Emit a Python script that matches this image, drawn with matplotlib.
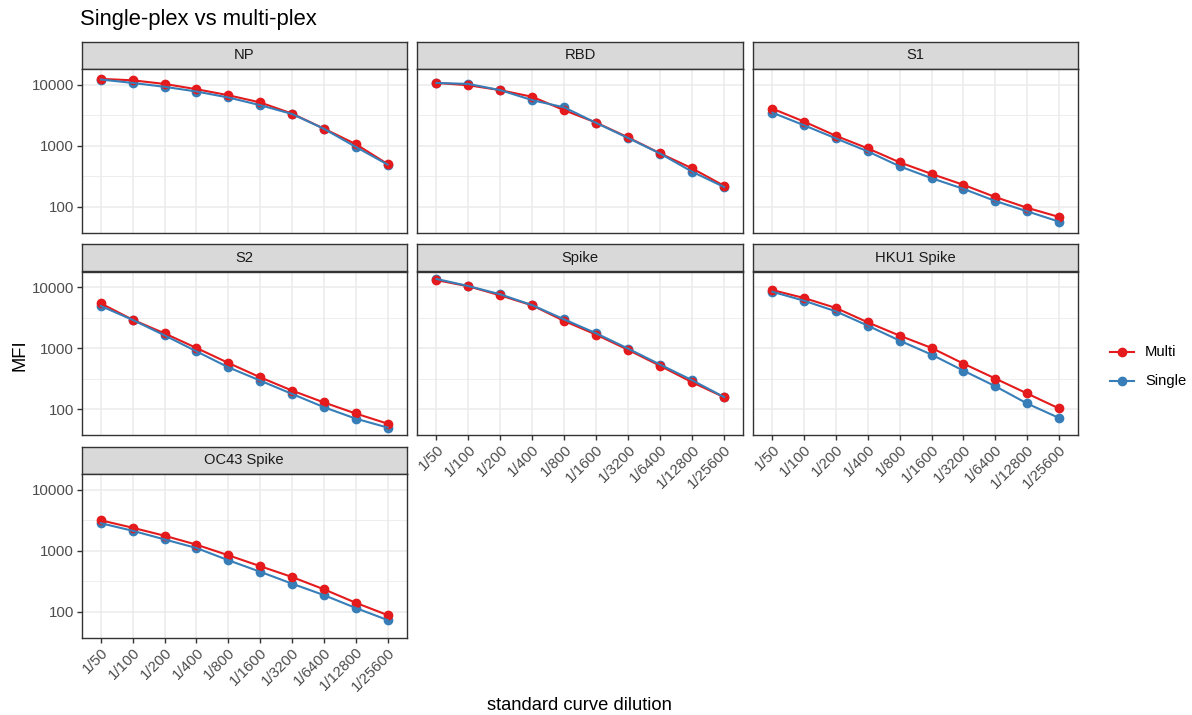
import numpy as np
import matplotlib
matplotlib.use("Agg")
import matplotlib.pyplot as plt
from matplotlib.ticker import FixedLocator, NullFormatter

plt.rcParams["font.family"] = ["Liberation Sans", "DejaVu Sans"]

# dilution steps (x categories)
dilutions = ["1/50", "1/100", "1/200", "1/400", "1/800", "1/1600",
             "1/3200", "1/6400", "1/12800", "1/25600"]
antigens = ["NP", "RBD", "S1", "S2", "Spike", "HKU1 Spike", "OC43 Spike"]

# MFI values
np_multi = [12400, 11750, 10250, 8400, 6700, 5100, 3350, 1900, 1060, 500]
np_single = [12100, 10650, 9200, 7700, 6150, 4600, 3300, 1890, 955, 490]
rbd_multi = [10650, 9750, 8100, 6300, 3800, 2380, 1360, 746, 424, 219]
rbd_single = [10650, 10250, 8100, 5550, 4230, 2350, 1330, 740, 374, 210]
s1_multi = [4030, 2470, 1445, 900, 532, 344, 228, 144, 96, 68]
s1_single = [3470, 2150, 1310, 803, 458, 293, 196, 124, 84, 57]
s2_multi = [5400, 2920, 1745, 1006, 573, 333, 202, 129, 85, 58]
s2_single = [4900, 2900, 1620, 887, 486, 294, 178, 108, 70, 50]
spike_multi = [13000, 10300, 7300, 5000, 2780, 1660, 935, 512, 276, 157]
spike_single = [13600, 10400, 7600, 5050, 2950, 1745, 980, 537, 298, 158]
hku1_multi = [8930, 6610, 4540, 2640, 1600, 1007, 558, 318, 181, 103]
hku1_single = [8380, 5970, 3990, 2330, 1325, 783, 428, 238, 124, 72]
oc43_multi = [3140, 2370, 1755, 1253, 841, 557, 370, 233, 140, 88]
oc43_single = [2810, 2115, 1527, 1104, 697, 451, 288, 187, 115, 73]

multi = [np_multi, rbd_multi, s1_multi, s2_multi, spike_multi, hku1_multi, oc43_multi]
single = [np_single, rbd_single, s1_single, s2_single, spike_single, hku1_single, oc43_single]

RED = "#E41A1C"
BLUE = "#377EB8"
W, H = 1192, 715

fig = plt.figure(figsize=(W / 100, H / 100), dpi=100)


def rect(l, t, r, b):
    return [l / W, 1 - b / H, (r - l) / W, (b - t) / H]


cols = [(81.7, 406.7), (417.3, 743.3), (753.3, 1078.0)]
row_tops = [41.5, 244.0, 446.5]
strip_h = 27.5
panel_h = 163.5

# shared log scale with ggplot-like 5% expansion
allv = np.log10(np.concatenate([np.array(multi).ravel(), np.array(single).ravel()]))
lo, hi = allv.min(), allv.max()
pad = (hi - lo) * 0.05
ylim = (10 ** (lo - pad), 10 ** (hi + pad))

x = np.arange(len(dilutions))
edge = "#333333"
ms = 6.0
lw = 1.5

for i, name in enumerate(antigens):
    r, c = divmod(i, 3)
    l, rr = cols[c]
    t = row_tops[r]
    # strip
    sax = fig.add_axes(rect(l, t, rr, t + strip_h))
    sax.set_facecolor("#D9D9D9")
    sax.set_xticks([])
    sax.set_yticks([])
    for sp in sax.spines.values():
        sp.set_color(edge)
        sp.set_linewidth(1.0)
    sax.text(0.5, 0.5, name, ha="center", va="center", fontsize=10.6,
             color="#1A1A1A", transform=sax.transAxes)

    ax = fig.add_axes(rect(l, t + strip_h, rr, t + strip_h + panel_h))
    ax.set_yscale("log")
    ax.set_ylim(*ylim)
    ax.set_xlim(-0.6, len(dilutions) - 0.4)
    ax.yaxis.set_major_locator(FixedLocator([100, 1000, 10000]))
    ax.yaxis.set_minor_locator(FixedLocator([10 ** 2.5, 10 ** 3.5]))
    ax.yaxis.set_minor_formatter(NullFormatter())
    ax.set_xticks(x)
    ax.grid(True, which="major", color="#EBEBEB", linewidth=1.1, zorder=0)
    ax.grid(True, which="minor", axis="y", color="#EBEBEB", linewidth=0.6, zorder=0)
    ax.set_axisbelow(True)
    for sp in ax.spines.values():
        sp.set_color(edge)
        sp.set_linewidth(1.0)
    ax.tick_params(which="minor", length=0)
    ax.tick_params(which="major", length=3.5, width=1.0, color=edge,
                   labelsize=10.8, labelcolor="#4D4D4D", pad=2)

    ax.plot(x, single[i], "o", color=BLUE, markersize=ms, zorder=3)
    ax.plot(x, multi[i], "o", color=RED, markersize=ms, zorder=4)
    ax.plot(x, multi[i], "-", color=RED, linewidth=lw, zorder=5)
    ax.plot(x, single[i], "-", color=BLUE, linewidth=lw, zorder=6)

    if c == 0:
        ax.set_yticklabels(["100", "1000", "10000"])
    else:
        ax.tick_params(axis="y", length=0, labelleft=False)

    bottom_of_col = (i + 3 >= len(antigens))
    if bottom_of_col:
        ax.set_xticklabels(dilutions, rotation=45, ha="right", va="top",
                           rotation_mode="anchor")
    else:
        ax.tick_params(axis="x", length=0, labelbottom=False)

fig.text(80 / W, 1 - 20 / H, "Single-plex vs multi-plex", fontsize=15.8,
         ha="left", va="center", color="black")
fig.text(20 / W, 1 - 355 / H, "MFI", fontsize=13.2, rotation=90,
         ha="center", va="center", color="black")
fig.text(579 / W, 1 - 705 / H, "standard curve dilution", fontsize=13.2,
         ha="center", va="center", color="black")

# legend
lax = fig.add_axes(rect(1100, 335, 1190, 395))
lax.set_axis_off()
lax.set_xlim(0, 90)
lax.set_ylim(60, 0)
for yy, col, lab in [(17, RED, "Multi"), (46, BLUE, "Single")]:
    lax.plot([10, 34], [yy, yy], "-", color=col, linewidth=lw)
    lax.plot([22], [yy], "o", color=col, markersize=ms)
    lax.text(45, yy, lab, va="center", ha="left", fontsize=10.6, color="black")

fig.savefig("out.png", dpi=100)
